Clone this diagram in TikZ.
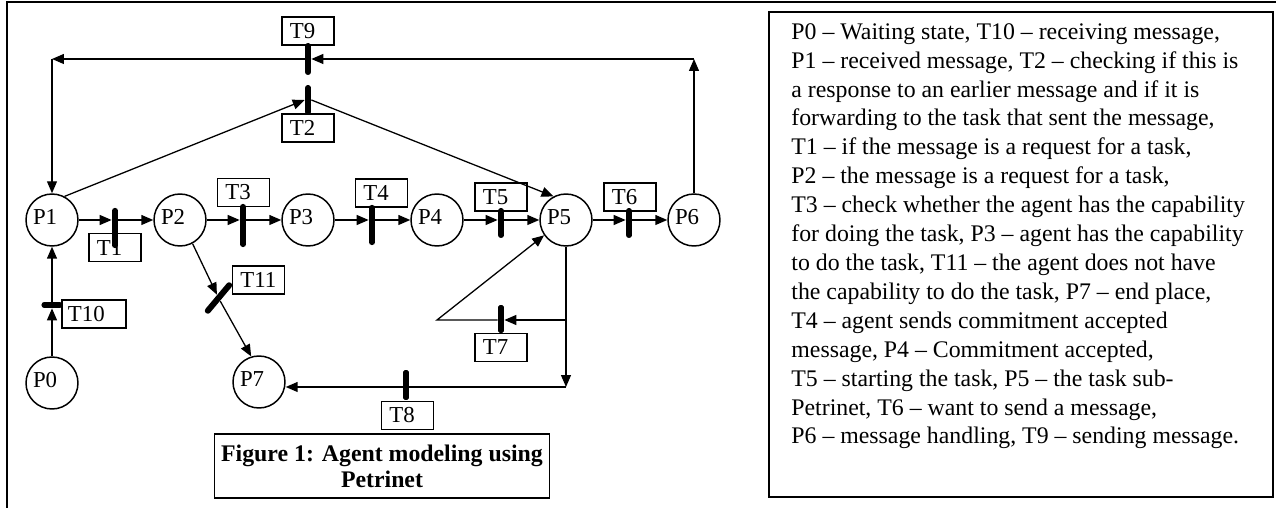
\documentclass[tikz,border=0pt]{standalone}
\usepackage{fontspec}
\setmainfont{Liberation Serif}
\usetikzlibrary{arrows.meta}

\tikzset{
  place/.style={circle,draw,line width=0.75pt,minimum size=26.2pt,inner sep=0pt,
    label={[xshift=-3.5pt,yshift=1.5pt]center:#1}},
  bar/.style={fill=black,rounded corners=1.4pt,minimum width=3pt,minimum height=#1,inner sep=0pt},
  tbox/.style={draw,fill=white,line width=0.6pt,text width=#1,align=left,
    minimum height=14.1pt,inner xsep=1.5pt,inner ysep=0pt},
  tbox/.default=23.2pt,
  line/.style={line width=0.65pt},
  arc/.style={line width=0.65pt,-{Triangle[length=6pt,width=5pt]}}
}

\begin{document}
\begin{tikzpicture}[x=0.504pt,y=-0.504pt,font=\fontsize{11.5}{13.5}\selectfont]
\useasboundingbox (0,0) rectangle (1276,508);
% frame
\draw[line width=1pt] (7,508) -- (7,2) -- (1276,2);
% places
\foreach \n/\x in {1/52,2/180,3/308,4/437,5/566,6/694}{\node[place=P\n] (P\n) at (\x,220) {};}
\node[place=P0] (P0) at (52,383) {};
\node[place=P7] (P7) at (259,382) {};
% transition labels
\foreach \n/\x/\y in {1/115/247.5,2/308/128,3/243.5/192.5,4/381.5/193,5/501/197,6/630/197,7/501/347.5,8/407.5/415.5,9/308/31,11/258.5/280}{\node[tbox] (L\n) at (\x,\y) {\hspace*{2.5pt}T\n};}
\node[tbox=29.3pt] (L10) at (94,314) {\hspace*{1.5pt}T10};
% transitions
\foreach \n/\x/\y/\h in {1/115/228/20.2pt,2/308/100/15.1pt,3/243/225.5/21.7pt,4/372/225/20.2pt,5/501/223/15.1pt,6/629/223/15.1pt,7/501/319/14.1pt,8/406/385/15.1pt,9/308/59/16.1pt}{\node[bar=\h] (T\n) at (\x,\y) {};}
\node[bar=10.6pt,rotate=90] (T10) at (52,305) {};
\node[bar=19.7pt,rotate=-40] (T11) at (218.5,298) {};
% main row
\draw[arc] (P1) -- (P1 -| T1.west);
\draw[arc] (P1 -| T1.east) -- (P2);
\draw[arc] (P2) -- (P2 -| T3.west);
\draw[arc] (P2 -| T3.east) -- (P3);
\draw[arc] (P3) -- (P3 -| T4.west);
\draw[arc] (P3 -| T4.east) -- (P4);
\draw[arc] (P4) -- (P4 -| T5.west);
\draw[arc] (P4 -| T5.east) -- (P5);
\draw[arc] (P5) -- (P5 -| T6.west);
\draw[arc] (P5 -| T6.east) -- (P6);
% loop back over T9
\coordinate (c6) at (694,59);
\coordinate (c1) at (52,59);
\draw[arc] (P6) -- (c6);
\draw[arc] (c6) -- (c6 -| T9.east);
\draw[arc] (c1 -| T9.west) -- (c1);
\draw[arc] (c1) -- (P1);
% T2
\draw[arc] (P1.62) -- (T2.west);
\draw[arc] (T2.east) -- (P5.118);
% T10, T11
\draw[arc] (P0) -- (T10);
\draw[arc] (T10) -- (P1);
\draw[arc] (P2.-62) -- (T11);
\draw[arc] (T11) -- (P7.107);
% T7, T8
\coordinate (c7) at (566,320);
\coordinate (c7b) at (437,320);
\coordinate (c8) at (566,387);
\draw[arc] (P5) -- (c8);
\draw[arc] (c7) -- (c7 -| T7.east);
\draw[arc] (c7 -| T7.west) -- (c7b) -- (P5.215);
\draw[arc] (c8) -- (c8 -| P7.east);
\node[bar=15.1pt] at (T8) {};
\node[bar=14.1pt] at (T7) {};
% caption
\node[draw,line width=0.6pt,minimum width=168.3pt,minimum height=32.3pt,align=center,
  font=\bfseries\fontsize{12}{13.2}\selectfont] (caption) at (382,466)
  {Figure 1: Agent modeling using\\Petrinet};
% legend
\draw[line width=0.7pt] (769,12) rectangle (1273,497);
\node[anchor=north west,inner sep=0pt,align=left,font=\fontsize{12}{14.57}\selectfont] (legend) at (791,23)
  {P0 -- Waiting state, T10 -- receiving message,\\
   P1 -- received message, T2 -- checking if this is\\
   a response to an earlier message and if it is\\
   forwarding to the task that sent the message,\\
   T1 -- if the message is a request for a task,\\
   P2 -- the message is a request for a task,\\
   T3 -- check whether the agent has the capability\\
   for doing the task, P3 -- agent has the capability\\
   to do the task, T11 -- the agent does not have\\
   the capability to do the task, P7 -- end place,\\
   T4 -- agent sends commitment accepted\\
   message, P4 -- Commitment accepted,\\
   T5 -- starting the task, P5 -- the task sub-\\
   Petrinet, T6 -- want to send a message,\\
   P6 -- message handling, T9 -- sending message.};
\end{tikzpicture}
\end{document}
